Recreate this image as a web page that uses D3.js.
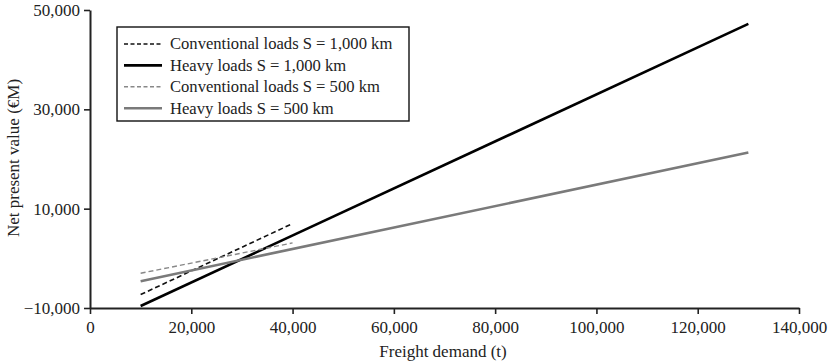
<!DOCTYPE html>
<html>
<head>
<meta charset="utf-8">
<script src="https://cdn.jsdelivr.net/npm/d3@7"></script>
<style>
  body { margin: 0; background: #fff; }
  text { font-family: "Liberation Serif", "DejaVu Serif", serif; fill: #222; }
</style>
</head>
<body>
<svg id="chart" width="829" height="362"></svg>
<script>
// data (endpoints of each straight line)
var demand_conv = [10000, 40000];
var demand_heavy = [10000, 130000];
var conv_1000 = [-7300, 7000];
var heavy_1000 = [-9600, 47200];
var conv_500 = [-3000, 3100];
var heavy_500 = [-4600, 21300];
var series_names = ["Conventional loads S = 1,000 km", "Heavy loads S = 1,000 km",
                    "Conventional loads S = 500 km", "Heavy loads S = 500 km"];
var x_ticks = [0, 20000, 40000, 60000, 80000, 100000, 120000, 140000];
var y_ticks = [-10000, 10000, 30000, 50000];

var series = [
  {name: series_names[0], xs: demand_conv, ys: conv_1000, color: "#111", width: 1.6, dash: "5,3"},
  {name: series_names[1], xs: demand_heavy, ys: heavy_1000, color: "#000", width: 2.6, dash: null},
  {name: series_names[2], xs: demand_conv, ys: conv_500, color: "#888", width: 1.4, dash: "5,3"},
  {name: series_names[3], xs: demand_heavy, ys: heavy_500, color: "#7a7a7a", width: 2.6, dash: null}
];

var svg = d3.select("#chart");
var x = d3.scaleLinear().domain([0, 140000]).range([90, 799]);
var y = d3.scaleLinear().domain([-10000, 50000]).range([308, 10]);
var fmt = d3.format(",");

var gx = svg.append("g").attr("transform", "translate(0,308)")
  .call(d3.axisBottom(x).tickValues(x_ticks).tickFormat(fmt).tickSize(6).tickSizeOuter(0));
var gy = svg.append("g").attr("transform", "translate(90,0)")
  .call(d3.axisLeft(y).tickValues(y_ticks).tickFormat(function(d) { return fmt(d).replace("-", "\u2212"); }).tickSize(6).tickSizeOuter(0));
[gx, gy].forEach(function(g) {
  g.select(".domain").attr("stroke", "#222").attr("stroke-width", 2);
  g.selectAll(".tick line").attr("stroke", "#222").attr("stroke-width", 1.6);
  g.selectAll(".tick text").attr("font-size", 17).attr("font-family", "Liberation Serif").attr("fill", "#222");
});
gx.selectAll(".tick text").attr("dy", "0.95em");
gy.selectAll(".tick text").attr("x", -10);

var line = d3.line().x(function(d) { return x(d[0]); }).y(function(d) { return y(d[1]); });
svg.selectAll("path.series").data(series).enter()
  .append("path").attr("class", "series")
  .attr("d", function(s) { return line(d3.zip(s.xs, s.ys)); })
  .attr("fill", "none")
  .attr("stroke", function(s) { return s.color; })
  .attr("stroke-width", function(s) { return s.width; })
  .attr("stroke-dasharray", function(s) { return s.dash; });

// axis titles
svg.append("text").attr("x", 443).attr("y", 357).attr("text-anchor", "middle")
  .attr("font-size", 17).text("Freight demand (t)");
svg.append("text").attr("transform", "translate(19,158) rotate(-90)").attr("text-anchor", "middle")
  .attr("font-size", 17).text("Net present value (\u20acM)");

// legend
var lg = svg.append("g");
lg.append("rect").attr("x", 117).attr("y", 27).attr("width", 292).attr("height", 94)
  .attr("fill", "#fff").attr("stroke", "#111").attr("stroke-width", 1.4);
var items = lg.selectAll("g.item").data(series).enter().append("g").attr("class", "item")
  .attr("transform", function(d, i) { return "translate(0," + (44 + i * 21.4) + ")"; });
items.append("line").attr("x1", 124).attr("x2", 162)
  .attr("stroke", function(s) { return s.color; })
  .attr("stroke-width", function(s) { return s.width; })
  .attr("stroke-dasharray", function(s) { return s.dash ? "4,2.5" : null; });
items.append("text").attr("x", 170).attr("dy", "0.33em").attr("font-size", 16.6)
  .text(function(s) { return s.name; });
</script>
</body>
</html>
